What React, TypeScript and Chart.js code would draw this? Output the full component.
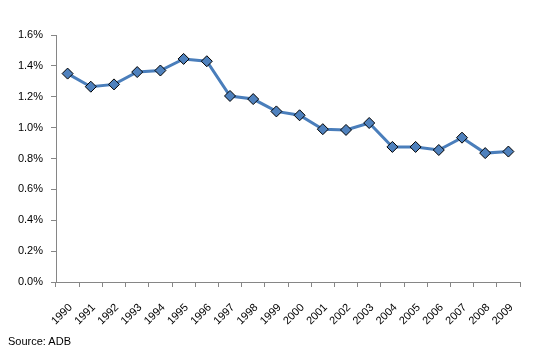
import React, { useEffect, useRef } from "react";
import { Chart, registerables } from "chart.js";

Chart.register(...registerables);

const years: string[] = ["1990","1991","1992","1993","1994","1995","1996","1997","1998","1999","2000","2001","2002","2003","2004","2005","2006","2007","2008","2009"];
const values: number[] = [1.35, 1.265, 1.28, 1.36, 1.37, 1.445, 1.43, 1.205, 1.185, 1.105, 1.08, 0.99, 0.985, 1.03, 0.875, 0.875, 0.855, 0.935, 0.835, 0.845];
const yTicks: number[] = [0, 0.2, 0.4, 0.6, 0.8, 1.0, 1.2, 1.4, 1.6];
const sourceText = "Source: ADB";

export default function App() {
  const ref = useRef<HTMLCanvasElement>(null);
  useEffect(() => {
    document.body.style.margin = "0";
    const ctx = ref.current!;
    const axisColor = "#868686";
    const chart = new Chart(ctx, {
      type: "line",
      data: {
        labels: years,
        datasets: [
          {
            data: values,
            borderColor: "#4a7ebb",
            borderWidth: 3,
            backgroundColor: "#4f81bd",
            pointStyle: "rectRot",
            pointRadius: 5.5,
            pointBorderColor: "#000000",
            pointBorderWidth: 1,
            pointBackgroundColor: "#4f81bd",
            tension: 0,
          },
        ],
      },
      options: {
        animation: false,
        responsive: false,
        maintainAspectRatio: false,
        layout: { padding: { top: 35, right: 17, left: 0, bottom: 0 } },
        plugins: { legend: { display: false }, tooltip: { enabled: false } },
        scales: {
          x: {
            offset: true,
            grid: { drawOnChartArea: false, drawTicks: true, tickLength: 5, color: axisColor, offset: true },
            border: { color: axisColor, width: 1 },
            ticks: {
              maxRotation: 45,
              minRotation: 45,
              autoSkip: false,
              color: "#000",
              font: { family: "Arial, 'Liberation Sans', sans-serif", size: 11 },
              padding: 14,
              labelOffset: 3,
            },
            afterFit: (s: any) => { s.height = 74; },
          },
          y: {
            min: 0,
            max: 1.6,
            afterBuildTicks: (s: any) => { s.ticks = yTicks.map((v) => ({ value: v })); },
            grid: { drawOnChartArea: false, drawTicks: true, tickLength: 5, color: axisColor },
            border: { color: axisColor, width: 1 },
            ticks: {
              color: "#000",
              font: { family: "Arial, 'Liberation Sans', sans-serif", size: 11 },
              padding: 8,
              callback: (v: any) => Number(v).toFixed(1) + "%",
            },
            afterFit: (s: any) => { s.width = 56; },
          },
        },
      },
    });
    return () => chart.destroy();
  }, []);
  return (
    <div style={{ position: "relative", width: 537, height: 356, background: "#fff" }}>
      <canvas ref={ref} width={537} height={356} style={{ display: "block" }} />
      <div
        style={{
          position: "absolute",
          left: 8,
          top: 335,
          fontFamily: "Arial, 'Liberation Sans', sans-serif",
          fontSize: 11,
          color: "#000",
        }}
      >
        {sourceText}
      </div>
    </div>
  );
}
